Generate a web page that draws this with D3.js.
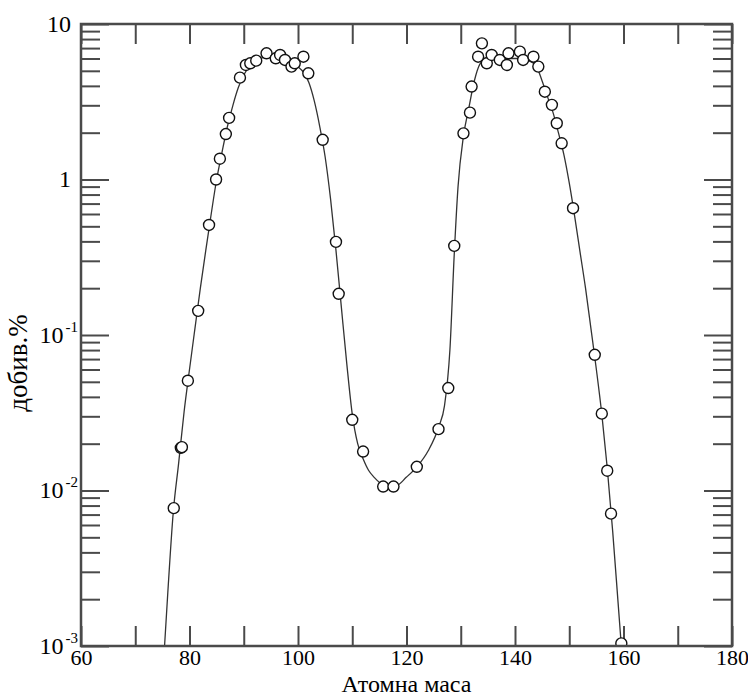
<!DOCTYPE html>
<html>
<head>
<meta charset="utf-8">
<script src="https://cdn.jsdelivr.net/npm/d3@7"></script>
<style>
  body { margin: 0; background: #fff; }
  svg text { font-family: "Liberation Serif", "Times New Roman", "DejaVu Serif", serif; }
</style>
</head>
<body>
<div class="chart"></div>
<script>
// Measured yields (points)
let mass = [77.1, 78.4, 78.6, 79.7, 81.6, 83.6, 84.9, 85.6, 86.7, 87.3,
            89.3, 90.4, 91.2, 92.3, 94.2, 95.9, 96.7, 97.6, 98.8, 99.4,
            101.0, 101.9, 104.55, 107.0, 107.5, 110.0, 112.0, 115.7, 117.6,
            121.9, 125.9, 127.7, 128.8, 130.5, 131.7, 132.0, 133.2, 133.9,
            134.8, 135.7, 137.2, 138.5, 138.8, 140.9, 141.5, 143.4, 144.3,
            145.5, 146.8, 147.7, 148.6, 150.7, 154.7, 156.0, 157.0, 157.7, 159.6];
let yieldPct = [0.0077, 0.0188, 0.019, 0.0508, 0.143, 0.51, 1.0, 1.36, 1.96, 2.49,
                4.52, 5.45, 5.59, 5.81, 6.48, 6.02, 6.32, 5.87, 5.32, 5.59,
                6.16, 4.82, 1.80, 0.397, 0.184, 0.0285, 0.0178, 0.0106, 0.0106,
                0.0142, 0.0248, 0.0456, 0.374, 1.98, 2.69, 3.96, 6.16, 7.51,
                5.59, 6.32, 5.87, 5.45, 6.48, 6.64, 5.87, 6.16, 5.32,
                3.67, 3.02, 2.30, 1.71, 0.654, 0.0746, 0.0312, 0.0134, 0.0071, 0.00104];

// Fitted curve
let fitMass = [75.4, 76, 77, 78, 79, 80, 81, 82, 83, 84, 85, 86, 87, 88, 89, 90, 91, 92,
               94, 96, 98, 100, 101, 102, 103, 104, 105, 106, 107, 108, 109, 110, 111,
               112, 113, 114, 116, 118, 120, 122, 124, 126, 127, 128, 128.8, 129.5,
               130.5, 131.5, 132.5, 133.5, 135, 137, 139, 141, 143, 144, 145, 146,
               147, 148, 149, 150, 151, 152, 153, 154, 155, 156, 157, 158, 159, 159.6];
let fitYield = [0.001, 0.0022, 0.0072, 0.015, 0.032, 0.06, 0.11, 0.2, 0.35, 0.6, 1.0, 1.5,
                2.2, 3.0, 3.9, 4.7, 5.3, 5.7, 6.1, 6.1, 5.8, 5.3, 4.9, 4.2, 3.2, 2.2, 1.4,
                0.75, 0.35, 0.15, 0.065, 0.031, 0.02, 0.016, 0.0135, 0.0122, 0.0108,
                0.0107, 0.0122, 0.0143, 0.018, 0.026, 0.035, 0.08, 0.33, 0.9, 1.9, 2.9,
                4.3, 5.5, 6.1, 6.1, 6.0, 6.0, 5.7, 5.3, 4.3, 3.4, 2.7, 2.0, 1.45, 0.95,
                0.58, 0.34, 0.2, 0.11, 0.06, 0.031, 0.014, 0.0055, 0.0019, 0.001];

let xMajor = d3.range(60, 181, 10);
let xLabels = [60, 80, 100, 120, 140, 160, 180];
let decades = [10, 1, 0.1, 0.01, 0.001];

let width = 748, height = 698;
let mLeft = 81, mRight = 732, mTop = 24, mBottom = 646;
let serif = '"Liberation Serif", "Times New Roman", serif';

let x = d3.scaleLinear().domain([60, 180]).range([mLeft, mRight]);
let y = d3.scaleLog().domain([0.001, 10]).range([mBottom, mTop]);

// minor log ticks 2..9 in each decade
let minor = [];
decades.slice(1).forEach(function (d) {
  for (let k = 2; k <= 9; k++) minor.push(d * k);
});

let svg = d3.select('.chart')
  .append('svg')
  .attr('width', width)
  .attr('height', height)
  .style('display', 'block');

svg.append('clipPath')
  .attr('id', 'plot')
  .append('rect')
  .attr('x', mLeft).attr('y', mTop)
  .attr('width', mRight - mLeft).attr('height', mBottom - mTop);

let tickColor = '#4a4a4a';

function styleAxis(g) {
  g.attr('font-family', null);
  g.select('.domain').remove();
  g.selectAll('line').attr('stroke', tickColor).attr('stroke-width', 2);
}

// bottom ticks + labels
svg.append('g')
  .attr('transform', 'translate(0,' + mBottom + ')')
  .call(d3.axisBottom(x).tickValues(xMajor).tickSize(-20).tickPadding(3)
        .tickFormat(d => xLabels.includes(d) ? d : ''))
  .call(styleAxis)
  .selectAll('text')
  .attr('fill', '#000')
  .style('font-size', '22px')
  .style('font-family', serif);

// top ticks
svg.append('g')
  .attr('transform', 'translate(0,' + mTop + ')')
  .call(d3.axisTop(x).tickValues(xMajor).tickSize(-20).tickFormat(''))
  .call(styleAxis);

// left & right, minor and decade ticks
svg.append('g')
  .attr('transform', 'translate(' + mLeft + ',0)')
  .call(d3.axisLeft(y).tickValues(minor).tickSize(-19).tickFormat(''))
  .call(styleAxis);
svg.append('g')
  .attr('transform', 'translate(' + mLeft + ',0)')
  .call(d3.axisLeft(y).tickValues(decades).tickSize(-28).tickFormat(''))
  .call(styleAxis);
svg.append('g')
  .attr('transform', 'translate(' + mRight + ',0)')
  .call(d3.axisRight(y).tickValues(minor).tickSize(-19).tickFormat(''))
  .call(styleAxis);
svg.append('g')
  .attr('transform', 'translate(' + mRight + ',0)')
  .call(d3.axisRight(y).tickValues(decades).tickSize(-28).tickFormat(''))
  .call(styleAxis);

// decade labels, 10^n with superscript below 1
let yLab = svg.append('g')
  .selectAll('text')
  .data(decades)
  .join('text')
  .attr('text-anchor', 'end')
  .attr('y', d => y(d))
  .attr('dy', '0.33em')
  .style('font-family', serif)
  .style('font-size', '24px');

yLab.each(function (d) {
  let t = d3.select(this);
  let e = Math.round(Math.log10(d));
  if (e >= 0) {
    t.attr('x', mLeft - 10).text(d);
  } else {
    t.attr('x', mLeft - 3);
    t.append('tspan').text('10');
    t.append('tspan').attr('dy', -11).attr('dx', 2)
      .style('font-size', '15px').text(e);
  }
});

// fitted curve
let line = d3.line()
  .x(d => x(d[0]))
  .y(d => y(d[1]))
  .curve(d3.curveMonotoneX);

svg.append('path')
  .attr('clip-path', 'url(#plot)')
  .attr('d', line(d3.zip(fitMass, fitYield)))
  .attr('fill', 'none')
  .attr('stroke', '#333')
  .attr('stroke-width', 1.3);

// points
svg.append('g')
  .attr('clip-path', 'url(#plot)')
  .selectAll('circle')
  .data(d3.zip(mass, yieldPct))
  .join('circle')
  .attr('cx', d => x(d[0]))
  .attr('cy', d => y(d[1]))
  .attr('r', 5.5)
  .attr('fill', '#fff')
  .attr('stroke', '#111')
  .attr('stroke-width', 1.4);

// frame
svg.append('rect')
  .attr('x', mLeft).attr('y', mTop)
  .attr('width', mRight - mLeft).attr('height', mBottom - mTop)
  .attr('fill', 'none')
  .attr('stroke', tickColor)
  .attr('stroke-width', 2.5);

// axis titles
svg.append('text')
  .attr('x', (mLeft + mRight) / 2)
  .attr('y', 692)
  .attr('text-anchor', 'middle')
  .style('font-family', serif)
  .style('font-size', '24px')
  .text('Атомна маса');

svg.append('text')
  .attr('transform', 'translate(27,363) rotate(-90)')
  .attr('text-anchor', 'middle')
  .style('font-family', serif)
  .style('font-size', '27px')
  .text('добив.%');
</script>
</body>
</html>
